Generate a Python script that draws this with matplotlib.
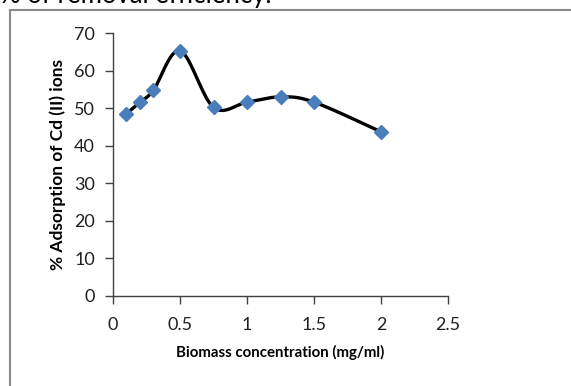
import numpy as np
import matplotlib.pyplot as plt
from matplotlib.lines import Line2D

# biomass dose vs. Cd(II) uptake
biomass = [0.1, 0.2, 0.3, 0.5, 0.75, 1.0, 1.25, 1.5, 2.0]
adsorption = [48.5, 51.6, 54.7, 65.3, 50.2, 51.6, 53.0, 51.6, 43.7]


def smooth_curve(x, y, n=40):
    """Bezier smoothing through every point, like a spreadsheet 'smoothed line'."""
    pts = np.column_stack([x, y]).astype(float)
    out = []
    for i in range(len(pts) - 1):
        p0 = pts[i - 1] if i > 0 else pts[i]
        p1 = pts[i]
        p2 = pts[i + 1]
        p3 = pts[i + 2] if i + 2 < len(pts) else pts[i + 1]
        c1 = p1 + (p2 - p0) / 6.0
        c2 = p2 - (p3 - p1) / 6.0
        t = np.linspace(0, 1, n)[:, None]
        seg = ((1 - t) ** 3) * p1 + 3 * ((1 - t) ** 2) * t * c1 + 3 * (1 - t) * t ** 2 * c2 + t ** 3 * p2
        out.append(seg if i == 0 else seg[1:])
    out = np.vstack(out)
    return out[:, 0], out[:, 1]


plt.rcParams['font.family'] = ['Lato', 'DejaVu Sans']

fig = plt.figure(figsize=(5.71, 3.86), dpi=100)
ax = fig.add_axes([0.198, 0.2332, 0.5866, 0.6813])

sx, sy = smooth_curve(biomass, adsorption)
ax.plot(sx, sy, color='black', lw=2.4, zorder=2)
ax.plot(biomass, adsorption, linestyle='none', marker='D', markersize=7.3,
        color='#4a7ebb', markeredgecolor='#4a7ebb', zorder=3)

ax.set_xlim(0, 2.5)
ax.set_ylim(0, 70)
ax.set_xticks(np.arange(0, 2.51, 0.5))
ax.set_xticklabels(['0', '0.5', '1', '1.5', '2', '2.5'])
ax.set_yticks(range(0, 71, 10))

for side in ['top', 'right']:
    ax.spines[side].set_visible(False)
for side in ['left', 'bottom']:
    ax.spines[side].set_color('#404040')
    ax.spines[side].set_linewidth(1.0)

ax.tick_params(direction='out', length=6, width=1, color='#404040',
               labelsize=13, labelcolor='#202020')
ax.tick_params(axis='y', pad=7)
ax.tick_params(axis='x', pad=9)

ax.set_xlabel('Biomass concentration (mg/ml)', fontsize=10.8, fontweight='bold', labelpad=9)
ax.set_ylabel('% Adsorption of Cd (II) ions', fontsize=12.5, fontweight='bold', labelpad=6)

# surrounding chart frame and the caption line above it
fig.add_artist(Line2D([10 / 571, 10 / 571], [0, 1 - 10 / 386], color='#8a8a8a', lw=1.5))
fig.add_artist(Line2D([10 / 571, 1], [1 - 10 / 386, 1 - 10 / 386], color='#8a8a8a', lw=1.5))
fig.text(0.0, 1 - 3 / 386, '% of removal efficiency.', fontsize=18.5, ha='left', va='baseline')

fig.savefig('out.png', dpi=100)
